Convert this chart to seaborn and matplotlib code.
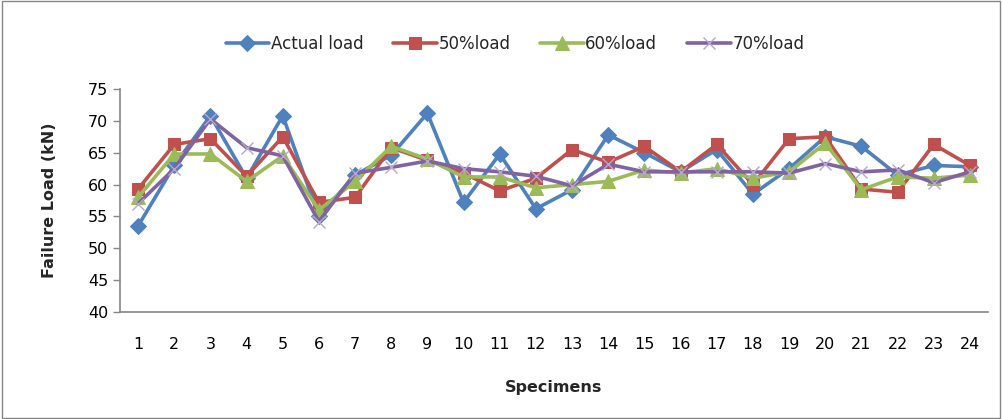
import matplotlib
matplotlib.use("Agg")
import matplotlib.pyplot as plt
import seaborn as sns
import pandas as pd

specimens = list(range(1, 25))
actual = [53.5, 63.0, 70.8, 61.0, 70.8, 55.0, 61.5, 64.6, 71.2, 57.2, 64.8, 56.2,
          59.2, 67.8, 65.0, 62.0, 65.5, 58.5, 62.5, 67.5, 66.0, 61.5, 63.0, 62.8]
load50 = [59.3, 66.3, 67.2, 61.3, 67.5, 57.2, 58.0, 65.8, 63.8, 61.8, 59.0, 61.0,
          65.5, 63.5, 66.0, 62.0, 66.3, 60.0, 67.2, 67.5, 59.3, 58.8, 66.3, 63.0]
load60 = [58.0, 64.8, 64.8, 60.5, 64.5, 56.0, 60.5, 66.0, 64.0, 61.2, 61.2, 59.5,
          60.0, 60.5, 62.3, 61.8, 62.5, 61.0, 62.0, 66.5, 59.2, 61.2, 61.0, 61.5]
load70 = [57.0, 62.5, 70.3, 65.8, 64.5, 54.2, 61.8, 62.7, 63.7, 62.5, 62.0, 61.3,
          59.8, 63.2, 62.0, 62.0, 62.0, 62.0, 61.8, 63.3, 62.0, 62.3, 60.3, 62.0]
series_names = ["Actual load", "50%load", "60%load", "70%load"]
yticks = [40, 45, 50, 55, 60, 65, 70, 75]

sns.set_style("white")
plt.rcParams['font.family'] = ['DejaVu Sans']

fig = plt.figure(figsize=(10.02, 4.19), dpi=100)
ax = fig.add_axes([120/1002, 1-312/419, (988-120)/1002, (312-89)/419])

styles = [
    ("#4F81BD", "D", 8),
    ("#C0504D", "s", 9),
    ("#9BBB59", "^", 10),
    ("#8064A2", "x", 9),
]
for name, vals, (col, mk, ms) in zip(series_names, [actual, load50, load60, load70], styles):
    df = pd.DataFrame({"Specimens": specimens, "val": vals})
    kw = dict(markeredgecolor=col)
    if mk == "x":
        kw["markeredgewidth"] = 1.0
        kw["markeredgecolor"] = "#B7A6CF"
    sns.lineplot(data=df, x="Specimens", y="val", ax=ax, color=col, marker=mk,
                 markersize=ms, linewidth=2.6, label=name, **kw)

ax.set_xlim(0.5, 24.5)
ax.set_ylim(40, 75)
ax.set_yticks(yticks)
ax.set_xticks(specimens)
ax.tick_params(axis='both', labelsize=11.5, colors='black')
ax.tick_params(axis='y', length=5, width=1, color='#868686', direction='out', left=True)
ax.tick_params(axis='x', length=0, pad=18)
for s in ['top', 'right']:
    ax.spines[s].set_visible(False)
for s in ['left', 'bottom']:
    ax.spines[s].set_color('#868686')
    ax.spines[s].set_linewidth(1.2)
ax.set_xlabel("Specimens", fontsize=11.5, fontweight='bold', labelpad=20)
ax.set_ylabel("Failure Load (kN)", fontsize=11.5, fontweight='bold', labelpad=22)

handles, labels = ax.get_legend_handles_labels()
ax.get_legend().remove()
fig.legend(handles, labels, loc='center', bbox_to_anchor=(515/1002, 1-44/419), ncol=4, frameon=False,
           fontsize=12, handlelength=2.6, columnspacing=1.8, handletextpad=0.1)

fig.patches.append(matplotlib.patches.Rectangle((0.002, 0.003), 0.996, 0.994, transform=fig.transFigure,
                                                fill=False, edgecolor='#868686', linewidth=1.0))
fig.savefig("out.png", dpi=100)
